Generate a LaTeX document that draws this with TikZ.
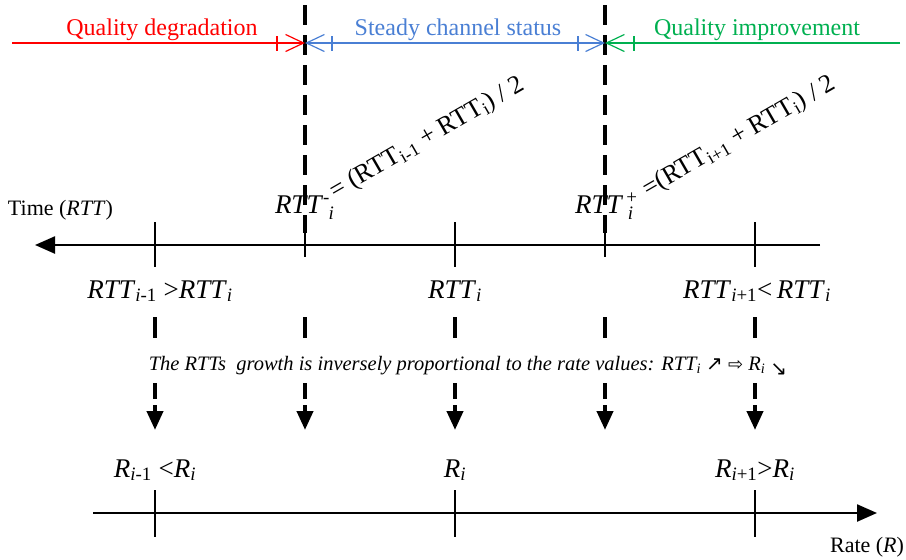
\documentclass[tikz,border=0pt]{standalone}
\usepackage{fontspec}
\setmainfont{Liberation Serif}
\newfontfamily\symfont{DejaVu Sans}
\usetikzlibrary{arrows.meta}

\definecolor{degr}{HTML}{FF0000}
\definecolor{steady}{HTML}{4A7FD4}
\definecolor{improv}{HTML}{00B050}

\newcommand{\mvar}[1]{\textit{#1}}
\newcommand{\sbs}[1]{\textsubscript{#1}}

\begin{document}
\begin{tikzpicture}[x=1pt,y=-1pt,
  every node/.style={inner sep=0pt, outer sep=0pt},
  phase/.style={font=\fontsize{24}{28}\selectfont, anchor=base},
  axislbl/.style={font=\fontsize{22}{26}\selectfont},
  vallbl/.style={font=\fontsize{27}{31}\selectfont, anchor=base},
  eqlbl/.style={font=\fontsize{26}{30}\selectfont, anchor=base west, rotate=30},
  note/.style={font=\fontsize{20.5}{24}\selectfont\itshape, anchor=base},
  phaseline/.style={line width=1.2pt},
  barb/.tip={Straight Barb[length=18pt,width=17pt]},
  axis/.style={line width=2.4pt, -{Triangle[length=20pt,width=17pt]}},
  tick/.style={line width=2.4pt},
  bound/.style={line width=4pt, dash pattern=on 20pt off 10pt},
  impl/.style={line width=4pt, dash pattern=on 21pt off 45pt on 16pt off 6pt on 30pt,
               -{Triangle[length=19pt,width=16pt]}}]
\useasboundingbox (0,0) rectangle (906,560);

% ---- phase boundaries and coloured phase lines ----
\coordinate (b1top) at (305,5);
\coordinate (b1bot) at (305,233);
\coordinate (b2top) at (605,5);
\coordinate (b2bot) at (605,233);
\coordinate (pL) at (12,43);
\coordinate (p1) at (305,43);
\coordinate (p2) at (605,43);
\coordinate (pR) at (900,43);

\draw[bound] (b1top) -- (b1bot);
\draw[bound] (b2top) -- (b2bot);

\draw[phaseline, degr, -barb] (pL) -- (p1);
\draw[phaseline, steady, barb-barb] (p1) -- (p2);
\draw[phaseline, improv, -barb] (pR) -- (p2);

\draw[phaseline, degr] (277,36) -- (277,51);
\draw[phaseline, steady] (332,36) -- (332,51);
\draw[phaseline, steady] (578,36) -- (578,51);
\draw[phaseline, improv] (634,36) -- (634,51);

\node[phase, text=degr] (qdeg) at (162,35) {Quality degradation};
\node[phase, text=steady] (qst) at (458,35) {Steady channel status};
\node[phase, text=improv] (qimp) at (757,35) {Quality improvement};

% ---- time (RTT) axis ----
\coordinate (tR) at (820,245);
\coordinate (tL) at (35,245);
\draw[axis] (tR) -- (tL);
\node[axislbl, anchor=base west] (tlabel) at (8,215) {Time (\mvar{RTT})};

\foreach \x/\n in {155/a,455/c,755/e}
  \draw[tick] (\x,222) coordinate (tt\n) -- (\x,267) coordinate (tb\n);
\foreach \x/\n in {305/b,605/d}
  \draw[tick] (\x,233) coordinate (tt\n) -- (\x,257) coordinate (tb\n);

\node[vallbl] (rttprev) at (160,298)
  {\mvar{RTT}\sbs{\mvar{i}-1} >\mvar{RTT}\sbs{\mvar{i}}};
\node[vallbl] (rtti) at (455,298) {\mvar{RTT}\sbs{\mvar{i}}};
\node[vallbl] (rttnext) at (757,298)
  {\mvar{RTT}\sbs{\mvar{i}+1}<\,\mvar{RTT}\sbs{\mvar{i}}};

% ---- boundary definitions ----
\node[vallbl, anchor=base west] (rttminus) at (275,213)
  {\mvar{RTT}\textsuperscript{-}\hspace{-0.05em}\raisebox{-0.25em}{\fontsize{19}{20}\selectfont\mvar{i}}};
\node[vallbl, anchor=base west] (rttplus) at (575,213)
  {\mvar{RTT}\textsuperscript{\,+}\hspace{-0.35em}\raisebox{-0.25em}{\fontsize{19}{20}\selectfont\mvar{i}}};
\node[eqlbl] (eqminus) at (335,199)
  {= (RTT\sbs{i-1} + RTT\sbs{i}) / 2};
\node[eqlbl] (eqplus) at (648,197)
  {=(RTT\sbs{i+1} + RTT\sbs{i}) / 2};

% ---- implication arrows ----
\foreach \x/\n in {155/a,305/b,455/c,605/d,755/e}{
  \coordinate (is\n) at (\x,317);
  \coordinate (ie\n) at (\x,430);
  \draw[impl] (is\n) -- (ie\n);
}
\node[note] (rule) at (468,370)
  {The RTTs\ \ growth is inversely proportional to the rate values: RTT\sbs{i}
   {\symfont\upshape\fontsize{20}{22}\selectfont ↗} {\symfont\upshape\fontsize{18}{22}\selectfont ⇨}
   R\sbs{i} \raisebox{-5pt}{\symfont\upshape\fontsize{20}{22}\selectfont ↘}};

% ---- rate (R) axis ----
\coordinate (rL) at (93,513);
\coordinate (rR) at (877,513);
\draw[axis] (rL) -- (rR);
\foreach \x/\n in {155/a,455/c,755/e}
  \draw[tick] (\x,490) coordinate (rt\n) -- (\x,537) coordinate (rb\n);
\node[axislbl, anchor=base east] (rlabel) at (904,552) {Rate (\mvar{R})};

\node[vallbl] (rprev) at (155,477) {\mvar{R}\sbs{\mvar{i}-1} <\mvar{R}\sbs{\mvar{i}}};
\node[vallbl] (ri) at (455,477) {\mvar{R}\sbs{\mvar{i}}};
\node[vallbl] (rnext) at (755,477) {\mvar{R}\sbs{\mvar{i}+1}>\mvar{R}\sbs{\mvar{i}}};
\end{tikzpicture}
\end{document}
